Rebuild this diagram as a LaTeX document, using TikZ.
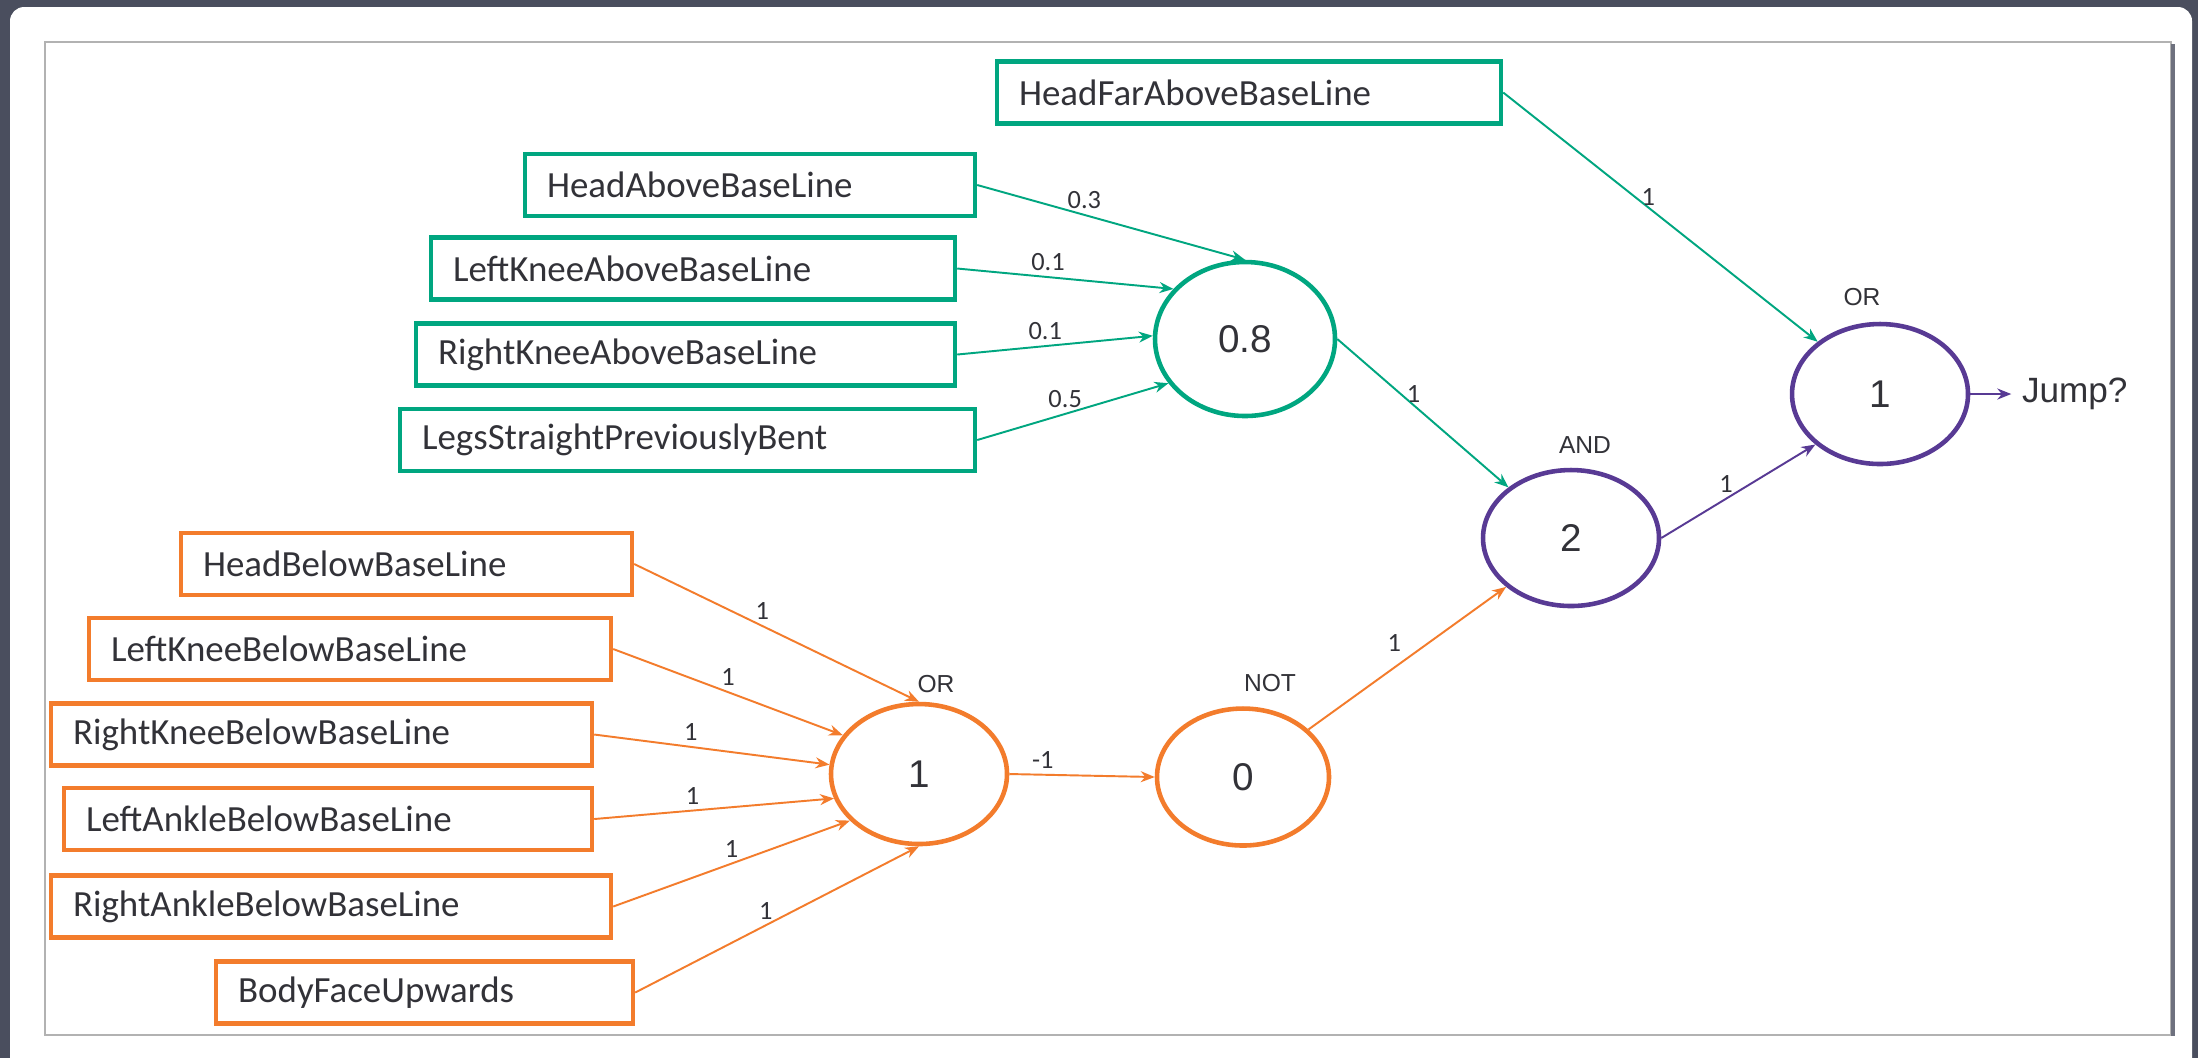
\documentclass[tikz,border=0pt]{standalone}
\usepackage{fontspec}
\setmainfont{Liberation Sans}
\newfontfamily\condfont{Carlito}
\usetikzlibrary{positioning,arrows.meta,shapes.geometric}

\definecolor{tealg}{RGB}{0,166,128}
\definecolor{orng}{RGB}{243,124,44}
\definecolor{purp}{RGB}{88,58,148}
\definecolor{ink}{RGB}{50,50,56}
\definecolor{slate}{RGB}{74,78,94}

\begin{document}
\begin{tikzpicture}[
  >={Stealth[length=1.4mm, width=1.1mm]},
  inbox/.style={rectangle, draw, line width=1.2pt, minimum height=6.2mm, inner xsep=2.2mm, align=left, anchor=west, text=ink, font=\condfont\fontsize{10.5}{12}\selectfont},
  gbox/.style={inbox, draw=tealg},
  obox/.style={inbox, draw=orng},
  unit/.style={ellipse, draw, line width=1.3pt, minimum width=17.6mm, minimum height=14mm, inner sep=0pt, text=ink, font=\fontsize{11}{13}\selectfont},
  gate/.style={font=\fontsize{7}{8}\selectfont, text=ink, inner sep=1pt},
  wt/.style={font=\condfont\fontsize{7.5}{9}\selectfont, text=ink, inner sep=1.5pt},
  garrow/.style={->, color=tealg, line width=0.55pt},
  oarrow/.style={->, color=orng, line width=0.55pt},
  parrow/.style={->, color=purp, line width=0.55pt},
]
  \useasboundingbox (0,0) rectangle (21.98,-10.58);

  % slide frame
  \fill[slate] (0,0) rectangle (21.98,-10.58);
  \fill[white, rounded corners=4pt] (0.10,-0.07) rectangle (21.92,-10.8);
  \draw[gray!60, line width=0.5pt] (0.45,-0.42) rectangle (21.71,-10.35);
  \draw[slate!80, line width=1pt] (21.73,-0.44) -- (21.73,-10.36);

  % teal inputs
  \node[gbox, text width=4.60cm] (farAbove) at (9.95,-0.925) {HeadFarAboveBaseLine};
  \node[gbox, text width=4.06cm] (headAbove) at (5.23,-1.85) {HeadAboveBaseLine};
  \node[gbox, text width=4.80cm] (lkneeAbove) at (4.29,-2.685) {LeftKneeAboveBaseLine};
  \node[gbox, text width=4.95cm] (rkneeAbove) at (4.14,-3.545) {RightKneeAboveBaseLine};
  \node[gbox, text width=5.31cm] (legsBent) at (3.98,-4.40) {LegsStraightPreviouslyBent};

  % orange inputs
  \node[obox, text width=4.07cm] (headBelow) at (1.79,-5.64) {HeadBelowBaseLine};
  \node[obox, text width=4.78cm] (lkneeBelow) at (0.87,-6.49) {LeftKneeBelowBaseLine};
  \node[obox, text width=4.97cm] (rkneeBelow) at (0.49,-7.345) {RightKneeBelowBaseLine};
  \node[obox, text width=4.84cm] (lankleBelow) at (0.62,-8.19) {LeftAnkleBelowBaseLine};
  \node[obox, text width=5.16cm] (rankleBelow) at (0.49,-9.065) {RightAnkleBelowBaseLine};
  \node[obox, text width=3.73cm] (faceUp) at (2.14,-9.925) {BodyFaceUpwards};

  % units
  \node[unit, draw=tealg, minimum width=18mm, minimum height=15.4mm] (sum) at (12.45,-3.39) {0.8};
  \node[unit, draw=purp] (orOut) at (18.80,-3.94) {1};
  \node[unit, draw=purp, minimum height=13.6mm] (andG) at (15.71,-5.38) {2};
  \node[unit, draw=orng] (orIn) at (9.19,-7.74) {1};
  \node[unit, draw=orng, minimum width=17.2mm, minimum height=13.7mm] (notG) at (12.43,-7.77) {0};

  % gate names
  \node[gate, above=1.2mm of orOut.north, xshift=-1.8mm] (orOutTag) {OR};
  \node[gate, above=1mm of andG.north, xshift=1.4mm] (andTag) {AND};
  \node[gate, above=0.5mm of orIn.north, xshift=1.7mm] (orInTag) {OR};
  \node[gate, above=1mm of notG.north, xshift=2.7mm] (notTag) {NOT};

  % output
  \node[right=4.1mm of orOut, font=\fontsize{10}{12}\selectfont, text=ink, inner sep=1mm] (jump) {Jump?};
  \draw[parrow] (orOut) -- (jump);

  % teal weights
  \draw[garrow] (headAbove.east) -- (sum.north) node[pos=0.4, above, wt] {0.3};
  \draw[garrow] (lkneeAbove.east) -- (sum.145) node[pos=0.42, above, wt] {0.1};
  \draw[garrow] (rkneeAbove.east) -- (sum.178) node[pos=0.45, above, wt] {0.1};
  \draw[garrow] (legsBent.east) -- (sum.210) node[pos=0.46, above, wt] {0.5};
  \draw[garrow] (farAbove.east) -- (orOut.140) node[pos=0.42, right, wt] {1};
  \draw[garrow] (sum.east) -- (andG.141) node[pos=0.37, right, wt] {1};

  % orange weights
  \draw[oarrow] (headBelow.east) -- (orIn.north) node[pos=0.45, above, wt] {1};
  \draw[oarrow] (lkneeBelow.east) -- (orIn.153) node[pos=0.5, above, wt] {1};
  \draw[oarrow] (rkneeBelow.east) -- (orIn.174) node[pos=0.41, above, wt] {1};
  \draw[oarrow] (lankleBelow.east) -- (orIn.196) node[pos=0.41, above, wt] {1};
  \draw[oarrow] (rankleBelow.east) -- (orIn.214) node[pos=0.5, above, wt] {1};
  \draw[oarrow] (faceUp.east) -- (orIn.south) node[pos=0.46, above, wt] {1};
  \draw[oarrow] (orIn.east) -- (notG.west) node[pos=0.23, above, wt] {-1};
  \draw[oarrow] (notG.36) -- (andG.217) node[pos=0.5, above left, wt] {1};

  % purple
  \draw[parrow] (andG.east) -- (orOut.218) node[pos=0.42, above, wt] {1};
\end{tikzpicture}
\end{document}
